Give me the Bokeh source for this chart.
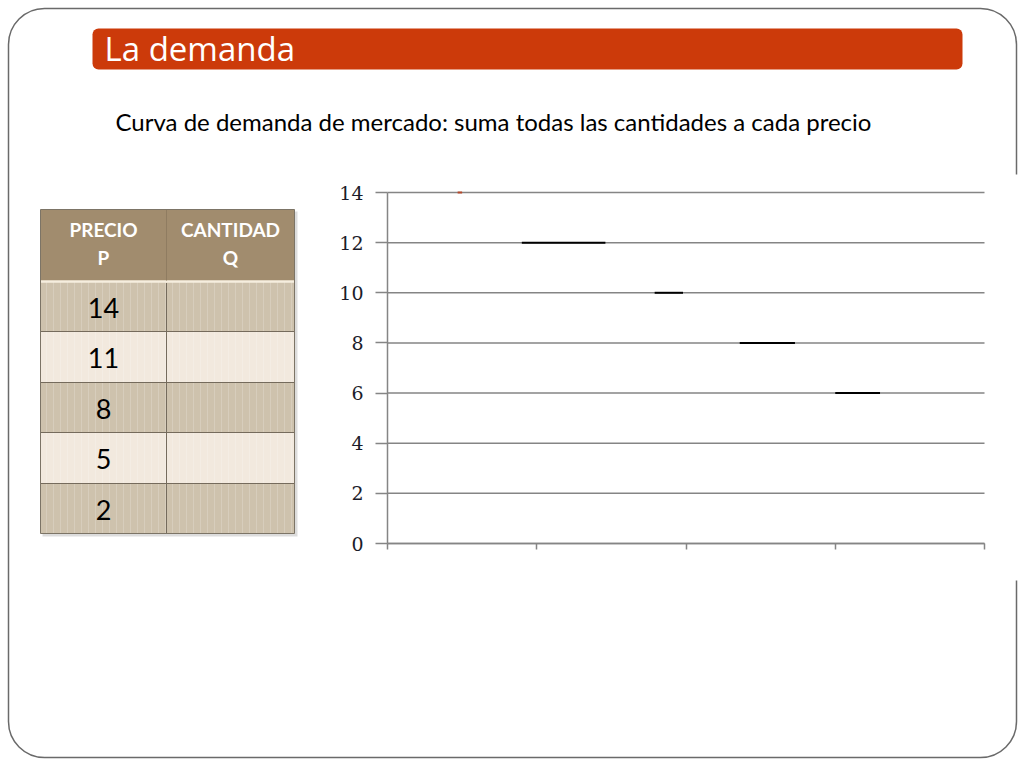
from bokeh.plotting import figure
from bokeh.models import BoxAnnotation, Label, Range1d, FixedTicker, LinearAxis
from bokeh.core.properties import value
from bokeh.embed import file_html
from bokeh.resources import INLINE

# ---------------- data ----------------
title_text = "La demanda"
subtitle_text = "Curva de demanda de mercado: suma todas las cantidades a cada precio"
header_p = ["PRECIO", "P"]
header_q = ["CANTIDAD", "Q"]
table_prices = [14, 11, 8, 5, 2]
y_ticks = [0, 2, 4, 6, 8, 10, 12, 14]
x_ticks = [0, 1, 2, 3, 4]
seg_price = [12, 10, 8, 6]
seg_q_start = [0.90, 1.79, 2.36, 3.00]
seg_q_end = [1.46, 1.98, 2.73, 3.30]
dot_price = [14]
dot_q_start = [0.47]
dot_q_end = [0.50]

# ---------------- canvas (pixel coordinates, y downwards) ----------------
W, H = 1024, 768
p = figure(width=W, height=H, x_range=Range1d(0, W), y_range=Range1d(H, 0),
           output_backend="svg", toolbar_location=None,
           x_axis_location=None, y_axis_location=None, min_border=0)
p.outline_line_color = None
p.background_fill_color = "white"
p.border_fill_color = "white"
p.grid.visible = False

# chart region on the slide
CX0, CX1 = 387, 984   # q = 0 .. 4
CY0, CY1 = 543, 192   # p = 0 .. 14
q_lo, q_hi = x_ticks[0], x_ticks[-1]
p_lo, p_hi = y_ticks[0], y_ticks[-1]
qs = (CX1 - CX0) / (q_hi - q_lo)
ps = (CY0 - CY1) / (p_hi - p_lo)
p.extra_x_ranges = {"q": Range1d(q_lo - CX0 / qs, q_lo + (W - CX0) / qs)}
p.extra_y_ranges = {"p": Range1d(p_lo - (H - CY0) / ps, p_lo + CY0 / ps)}

GRAY = "#858585"

# grid lines
p.segment(x0=[q_lo] * len(y_ticks), x1=[q_hi] * len(y_ticks), y0=y_ticks, y1=y_ticks,
          x_range_name="q", y_range_name="p", line_color=GRAY, line_width=1.5)

# remnants of the demand curve
p.segment(x0=seg_q_start, x1=seg_q_end, y0=seg_price, y1=seg_price,
          x_range_name="q", y_range_name="p", line_color="black", line_width=2)
p.segment(x0=dot_q_start, x1=dot_q_end, y0=dot_price, y1=dot_price,
          x_range_name="q", y_range_name="p", line_color="#b5482a", line_width=2)

# axes
yax = LinearAxis(y_range_name="p", fixed_location=CX0, bounds=(p_lo, p_hi),
                 ticker=FixedTicker(ticks=y_ticks))
yax.minor_tick_line_color = None
yax.major_tick_in = 0
yax.major_tick_out = 12
yax.axis_line_color = GRAY
yax.axis_line_width = 1.5
yax.major_tick_line_color = GRAY
yax.major_tick_line_width = 1.5
yax.major_label_standoff = 12
yax.major_label_text_font = "DejaVu Serif"
yax.major_label_text_font_size = "19px"
yax.major_label_text_color = "#1c1c2a"
p.add_layout(yax, "left")

xax = LinearAxis(x_range_name="q", fixed_location=CY0, bounds=(q_lo, q_hi),
                 ticker=FixedTicker(ticks=[], minor_ticks=x_ticks))
xax.major_tick_line_color = None
xax.minor_tick_in = 0
xax.minor_tick_out = 6
xax.minor_tick_line_color = GRAY
xax.minor_tick_line_width = 1.5
xax.axis_line_color = GRAY
xax.axis_line_width = 1.5
p.add_layout(xax, "below")

# ---------------- table ----------------
col_edges = [40, 166, 294]
head_top, head_bot = 209, 281
row_edges = [281, 331, 382, 432, 483, 533]
dark_row, light_row = "#CEC2AD", "#F2E9DE"
n = len(table_prices)

p.quad(left=[col_edges[0] + 2], right=[col_edges[-1] + 3], top=[head_top + 2],
       bottom=[row_edges[-1] + 3], fill_color="#9a9a9a", fill_alpha=0.35, line_color=None)
p.quad(left=[col_edges[0]], right=[col_edges[-1]], top=[head_top], bottom=[head_bot],
       fill_color="#A18C6E", line_color=None)
p.quad(left=[col_edges[0]] * n, right=[col_edges[-1]] * n, top=row_edges[:-1],
       bottom=row_edges[1:], fill_color=[dark_row if i % 2 == 0 else light_row for i in range(n)],
       line_color=None, hatch_pattern="vertical_line", hatch_color="white",
       hatch_alpha=0.18, hatch_scale=7, hatch_weight=1)
# separators
p.segment(x0=[col_edges[0]] * (n - 1), x1=[col_edges[-1]] * (n - 1), y0=row_edges[1:-1],
          y1=row_edges[1:-1], line_color="#756b5c", line_width=1)
p.segment(x0=[col_edges[0]], x1=[col_edges[-1]], y0=[head_bot], y1=[head_bot],
          line_color="#F6EEDF", line_width=2.5)
p.segment(x0=[col_edges[1]], x1=[col_edges[1]], y0=[head_bot + 1.5], y1=[row_edges[-1]],
          line_color="#756b5c", line_width=1)
p.segment(x0=[col_edges[1]], x1=[col_edges[1]], y0=[head_top], y1=[head_bot - 1],
          line_color="#8f7c61", line_width=1)
p.quad(left=[col_edges[0]], right=[col_edges[-1]], top=[head_top], bottom=[row_edges[-1]],
       fill_color=None, line_color="#7c7466", line_width=1)

xc1 = (col_edges[0] + col_edges[1]) / 2
xc2 = (col_edges[1] + col_edges[2]) / 2
p.text(x=[xc1] * n, y=[(row_edges[i] + row_edges[i + 1]) / 2 + 1 for i in range(n)],
       text=[str(v) for v in table_prices], text_color="black", text_font=value("Lato"),
       text_font_size="27px", text_align="center", text_baseline="middle")
p.text(x=[xc1, xc1, xc2, xc2], y=[229, 257, 229, 257],
       text=[header_p[0], header_p[1], header_q[0], header_q[1]], text_color="white",
       text_font=value("Lato"), text_font_style="bold", text_font_size="19px",
       text_align="center", text_baseline="middle")

# ---------------- slide decoration ----------------
p.add_layout(BoxAnnotation(left=8, right=1016, top=8, bottom=757, fill_color=None,
                           fill_alpha=0, line_color="#6a6a6a", line_alpha=1,
                           line_width=1.5, border_radius=36))
p.add_layout(BoxAnnotation(left=1009, right=1023, top=174, bottom=580,
                           fill_color="white", fill_alpha=1, line_color=None,
                           level="overlay"))
p.add_layout(BoxAnnotation(left=92, right=962, top=28, bottom=69, fill_color="#CC3A0A",
                           fill_alpha=1, line_color=None, border_radius=6))
p.add_layout(Label(x=104, y=48, text=title_text, text_color="white", text_font="Open Sans",
                   text_font_size="33px", text_baseline="middle"))
p.add_layout(Label(x=115, y=121, text=subtitle_text, text_color="black", text_font="Lato",
                   text_font_size="24px", text_baseline="middle"))

open("out.html", "w").write(file_html(p, INLINE))
